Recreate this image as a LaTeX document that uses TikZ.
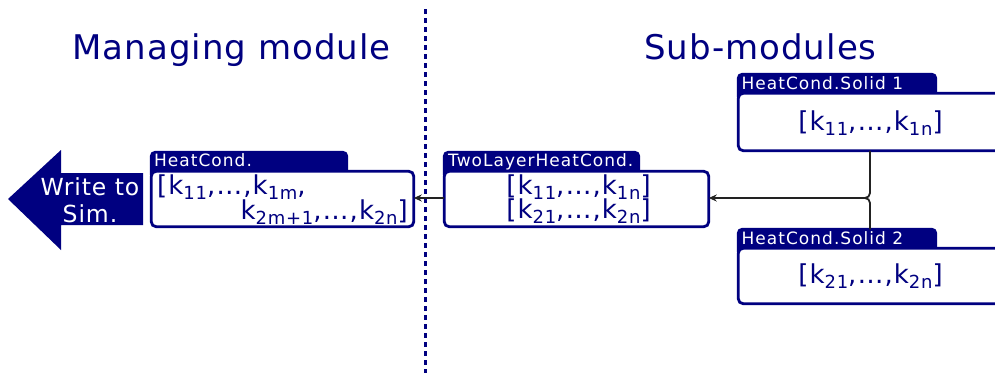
\documentclass[tikz,border=0pt]{standalone}
\usepackage{fontspec}
\setmainfont{DejaVu Sans}
\newfontfamily\dvtitle[LetterSpace=3]{DejaVu Sans}
\newfontfamily\dvtext[LetterSpace=4]{DejaVu Sans}
\newfontfamily\dvtab[LetterSpace=6]{DejaVu Sans}
\usetikzlibrary{arrows.meta}
\definecolor{navyblue}{RGB}{0,0,128}
\definecolor{linkgray}{RGB}{34,34,34}
% k with a lowered index
\newcommand\kk[1]{k\raisebox{-5pt}{\fontsize{18}{18}\selectfont #1}}

\begin{document}
\begin{tikzpicture}[x=1pt, y=-1pt,
  tab/.style={fill=navyblue, draw=navyblue, line width=2.8pt, rounded corners=4pt,
    inner sep=0pt, outer sep=0pt, minimum height=26pt},
  box/.style={fill=white, draw=navyblue, line width=2.8pt, rounded corners=5pt,
    inner sep=0pt, outer sep=0pt},
  tablabel/.style={text=white, font=\dvtab\fontsize{17}{17}\selectfont,
    anchor=base west, inner sep=0pt},
  val/.style={text=navyblue, font=\dvtext\fontsize{26}{26}\selectfont,
    inner sep=0pt, anchor=base},
  title/.style={text=navyblue, font=\dvtitle\fontsize{34}{34}\selectfont,
    inner sep=0pt, anchor=base},
  arrowtext/.style={text=white, font=\dvtext\fontsize{23.5}{23.5}\selectfont,
    inner sep=0pt, anchor=base},
  conn/.style={draw=linkgray, line width=1.8pt},
  tip/.style={-{Stealth[length=8pt,width=7pt]}},
]
\useasboundingbox (0,0) rectangle (995,372);
\clip (0,0) rectangle (995,372);

% headings
\node[title] (mtitle) at (231.5,59) {Managing module};
\node[title] (stitle) at (760.5,59) {Sub-modules};

% dotted divider
\coordinate (dtop) at (425,9);
\coordinate (dbot) at (425,380);
\draw[navyblue, line width=3pt, dash pattern=on 5pt off 4pt] (dtop) -- (dbot);

% "Write to Sim." arrow
\fill[navyblue] (8,199) -- (61,150) -- (61,173) -- (143,173) -- (143,225)
  -- (61,225) -- (61,250) -- cycle;
\node[arrowtext] (wt1) at (90,195) {Write to};
\node[arrowtext] (wt2) at (90,222) {Sim.};

% managing module box
\node[tab, minimum width=195.5pt] (hctab) at (249,165.25) {};
\node[box, minimum width=262.5pt, minimum height=55.5pt] (hc) at (282.5,199) {};
\node[tablabel] (hclab) at (154,166.5) {HeatCond.};
\node[val, anchor=base west] (hcv1) at (157,194) {[\kk{11},…,\kk{1m},};
\node[val, anchor=base east] (hcv2) at (408,219) {\kk{2m+1},…,\kk{2n}]};

% two-layer box
\node[tab, minimum width=194.5pt] (tltab) at (541.5,165.25) {};
\node[box, minimum width=264.5pt, minimum height=55.5pt] (tl) at (576.5,199) {};
\node[tablabel] (tllab) at (448,166.5) {TwoLayerHeatCond.};
\node[val] (tlv1) at (578.5,194) {[\kk{11},…,\kk{1n}]};
\node[val] (tlv2) at (578.5,218) {[\kk{21},…,\kk{2n}]};

% solid 1
\node[tab, minimum width=197.5pt] (s1tab) at (837,87.25) {};
\node[box, minimum width=321.75pt, minimum height=57.5pt] (s1) at (899.125,122) {};
\node[tablabel] (s1lab) at (741.5,89) {HeatCond.Solid 1};
\node[val] (s1v) at (870.5,130) {[\kk{11},…,\kk{1n}]};

% solid 2
\node[tab, minimum width=197.5pt] (s2tab) at (837,242.25) {};
\node[box, minimum width=321.75pt, minimum height=55.5pt] (s2) at (899.125,276) {};
\node[tablabel] (s2lab) at (741.5,244.5) {HeatCond.Solid 2};
\node[val] (s2v) at (870.5,283.5) {[\kk{21},…,\kk{2n}]};

% connectors
\coordinate (j) at (870,198);
\draw[conn, tip, rounded corners=5pt] (s1.south -| j) -- (j) -- (tl.east |- j);
\draw[conn, rounded corners=5pt] (s2tab.north -| j) -- (j) -- ([xshift=-20pt]j);
\draw[conn, tip] (tl.west |- j) -- (hc.east |- j);
\end{tikzpicture}
\end{document}
